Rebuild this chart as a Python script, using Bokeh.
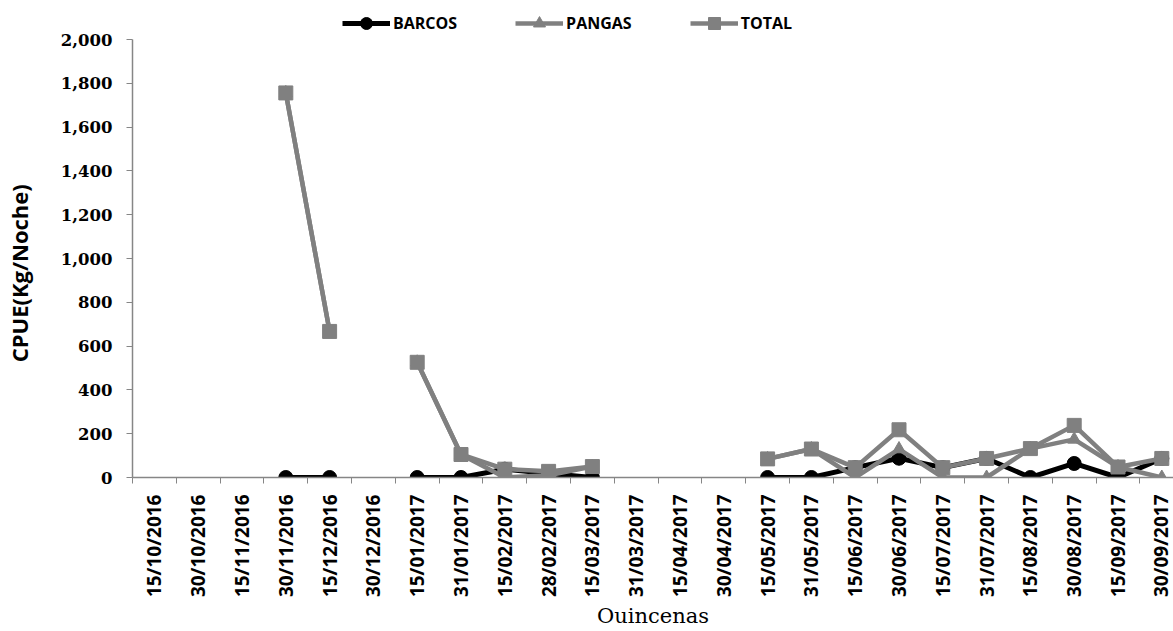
import math
from bokeh.plotting import figure
from bokeh.models import (FixedTicker, NumeralTickFormatter, Legend, LegendItem,
                          Range1d, ColumnDataSource)
from bokeh.embed import file_html
from bokeh.resources import INLINE

nan = float("nan")

quincenas = ["15/10/2016", "30/10/2016", "15/11/2016", "30/11/2016", "15/12/2016",
             "30/12/2016", "15/01/2017", "31/01/2017", "15/02/2017", "28/02/2017",
             "15/03/2017", "31/03/2017", "15/04/2017", "30/04/2017", "15/05/2017",
             "31/05/2017", "15/06/2017", "30/06/2017", "15/07/2017", "31/07/2017",
             "15/08/2017", "30/08/2017", "15/09/2017", "30/09/2017"]

barcos = [nan, nan, nan, 0, 0, nan, 0, 0, 38, 18, 0, nan, nan, nan,
          0, 0, 45, 88, 45, 87, 0, 64, 0, 87]
pangas = [nan, nan, nan, 1756, 667, nan, 526, 105, 0, 10, 50, nan, nan, nan,
          85, 130, 0, 130, 0, 0, 132, 174, 48, 0]
total = [nan, nan, nan, 1756, 667, nan, 526, 105, 38, 28, 50, nan, nan, nan,
         85, 130, 45, 218, 45, 87, 132, 238, 48, 87]

y_ticks = list(range(0, 2001, 200))

GRAY = "#808080"
AXIS = "#868686"

x = list(range(len(quincenas)))
src = ColumnDataSource(dict(x=x, barcos=barcos, pangas=pangas, total=total))

W, H = 1173, 631
left, bottom = 132, 154
px_per_cat = 43.8
frame_w = W - left
frame_h = H - bottom
px_per_unit = 438 / 2000   # 0 .. 2,000 spans 438 px; the top strip holds the legend

p = figure(width=W, height=H, output_backend="svg", toolbar_location=None,
           min_border_left=left, min_border_right=0, min_border_top=0,
           min_border_bottom=bottom,
           x_range=Range1d(-0.5, -0.5 + frame_w / px_per_cat),
           y_range=Range1d(0, frame_h / px_per_unit))
p.outline_line_color = None
p.xgrid.visible = False
p.ygrid.visible = False

# BARCOS
r_b_line = p.line("x", "barcos", source=src, line_color="black", line_width=5)
r_b_pts = p.scatter("x", "barcos", source=src, marker="circle", size=14,
                    fill_color="black", line_color="black")
# PANGAS
r_p_line = p.line("x", "pangas", source=src, line_color=GRAY, line_width=4.5)
r_p_pts = p.scatter("x", "pangas", source=src, marker="triangle", size=13,
                    fill_color=GRAY, line_color=GRAY)
# TOTAL
r_t_line = p.line("x", "total", source=src, line_color=GRAY, line_width=4.5)
r_t_pts = p.scatter("x", "total", source=src, marker="square", size=14,
                    fill_color=GRAY, line_color=GRAY)

# y axis
ya = p.yaxis[0]
ya.ticker = FixedTicker(ticks=y_ticks)
ya.bounds = (0, 2000)
ya.formatter = NumeralTickFormatter(format="0,0")
ya.axis_line_color = AXIS
ya.axis_line_width = 1.5
ya.major_tick_line_color = AXIS
ya.major_tick_in = 0
ya.major_tick_out = 6
ya.minor_tick_line_color = None
ya.major_label_text_font = "DejaVu Serif"
ya.major_label_text_font_style = "bold"
ya.major_label_text_font_size = "16.5px"
ya.major_label_text_color = "black"
ya.major_label_standoff = 14
# trailing no-break spaces centre the title on the 0 .. 2,000 span
ya.axis_label = "CPUE(Kg/Noche)" + "\u00a0" * 12
ya.axis_label_text_font = "Open Sans"
ya.axis_label_text_font_style = "bold"
ya.axis_label_text_font_size = "22px"
ya.axis_label_text_color = "black"
ya.axis_label_standoff = 24

# x axis: labels at category centres, ticks at category boundaries
xa = p.xaxis[0]
xa.ticker = FixedTicker(ticks=x, minor_ticks=[i - 0.5 for i in range(len(quincenas) + 1)])
xa.major_label_overrides = {i: q for i, q in enumerate(quincenas)}
xa.major_label_orientation = math.pi / 2
xa.major_tick_in = 0
xa.major_tick_out = 0
xa.minor_tick_in = 0
xa.minor_tick_out = 6
xa.minor_tick_line_color = AXIS
xa.axis_line_color = AXIS
xa.axis_line_width = 1.5
xa.major_label_text_font = "Open Sans"
xa.major_label_text_font_style = "bold"
xa.major_label_text_font_size = "19px"
xa.major_label_text_color = "black"
xa.major_label_standoff = 11
xa.axis_label = "Ouincenas"
xa.axis_label_text_font = "DejaVu Serif"
xa.axis_label_text_font_style = "normal"
xa.axis_label_text_font_size = "21px"
xa.axis_label_text_color = "black"
xa.axis_label_standoff = 4

legend = Legend(items=[
    LegendItem(label="BARCOS", renderers=[r_b_line, r_b_pts]),
    LegendItem(label="PANGAS", renderers=[r_p_line, r_p_pts]),
    LegendItem(label="TOTAL", renderers=[r_t_line, r_t_pts]),
], orientation="horizontal", location=(210, frame_h - 38), padding=0, margin=0,
    spacing=58, glyph_width=48, glyph_height=30, label_standoff=3,
    label_text_font="Open Sans", label_text_font_style="bold",
    label_text_font_size="16px", label_text_color="black",
    border_line_color=None, background_fill_alpha=0)
p.add_layout(legend, "center")

open("out.html", "w").write(file_html(p, INLINE))
